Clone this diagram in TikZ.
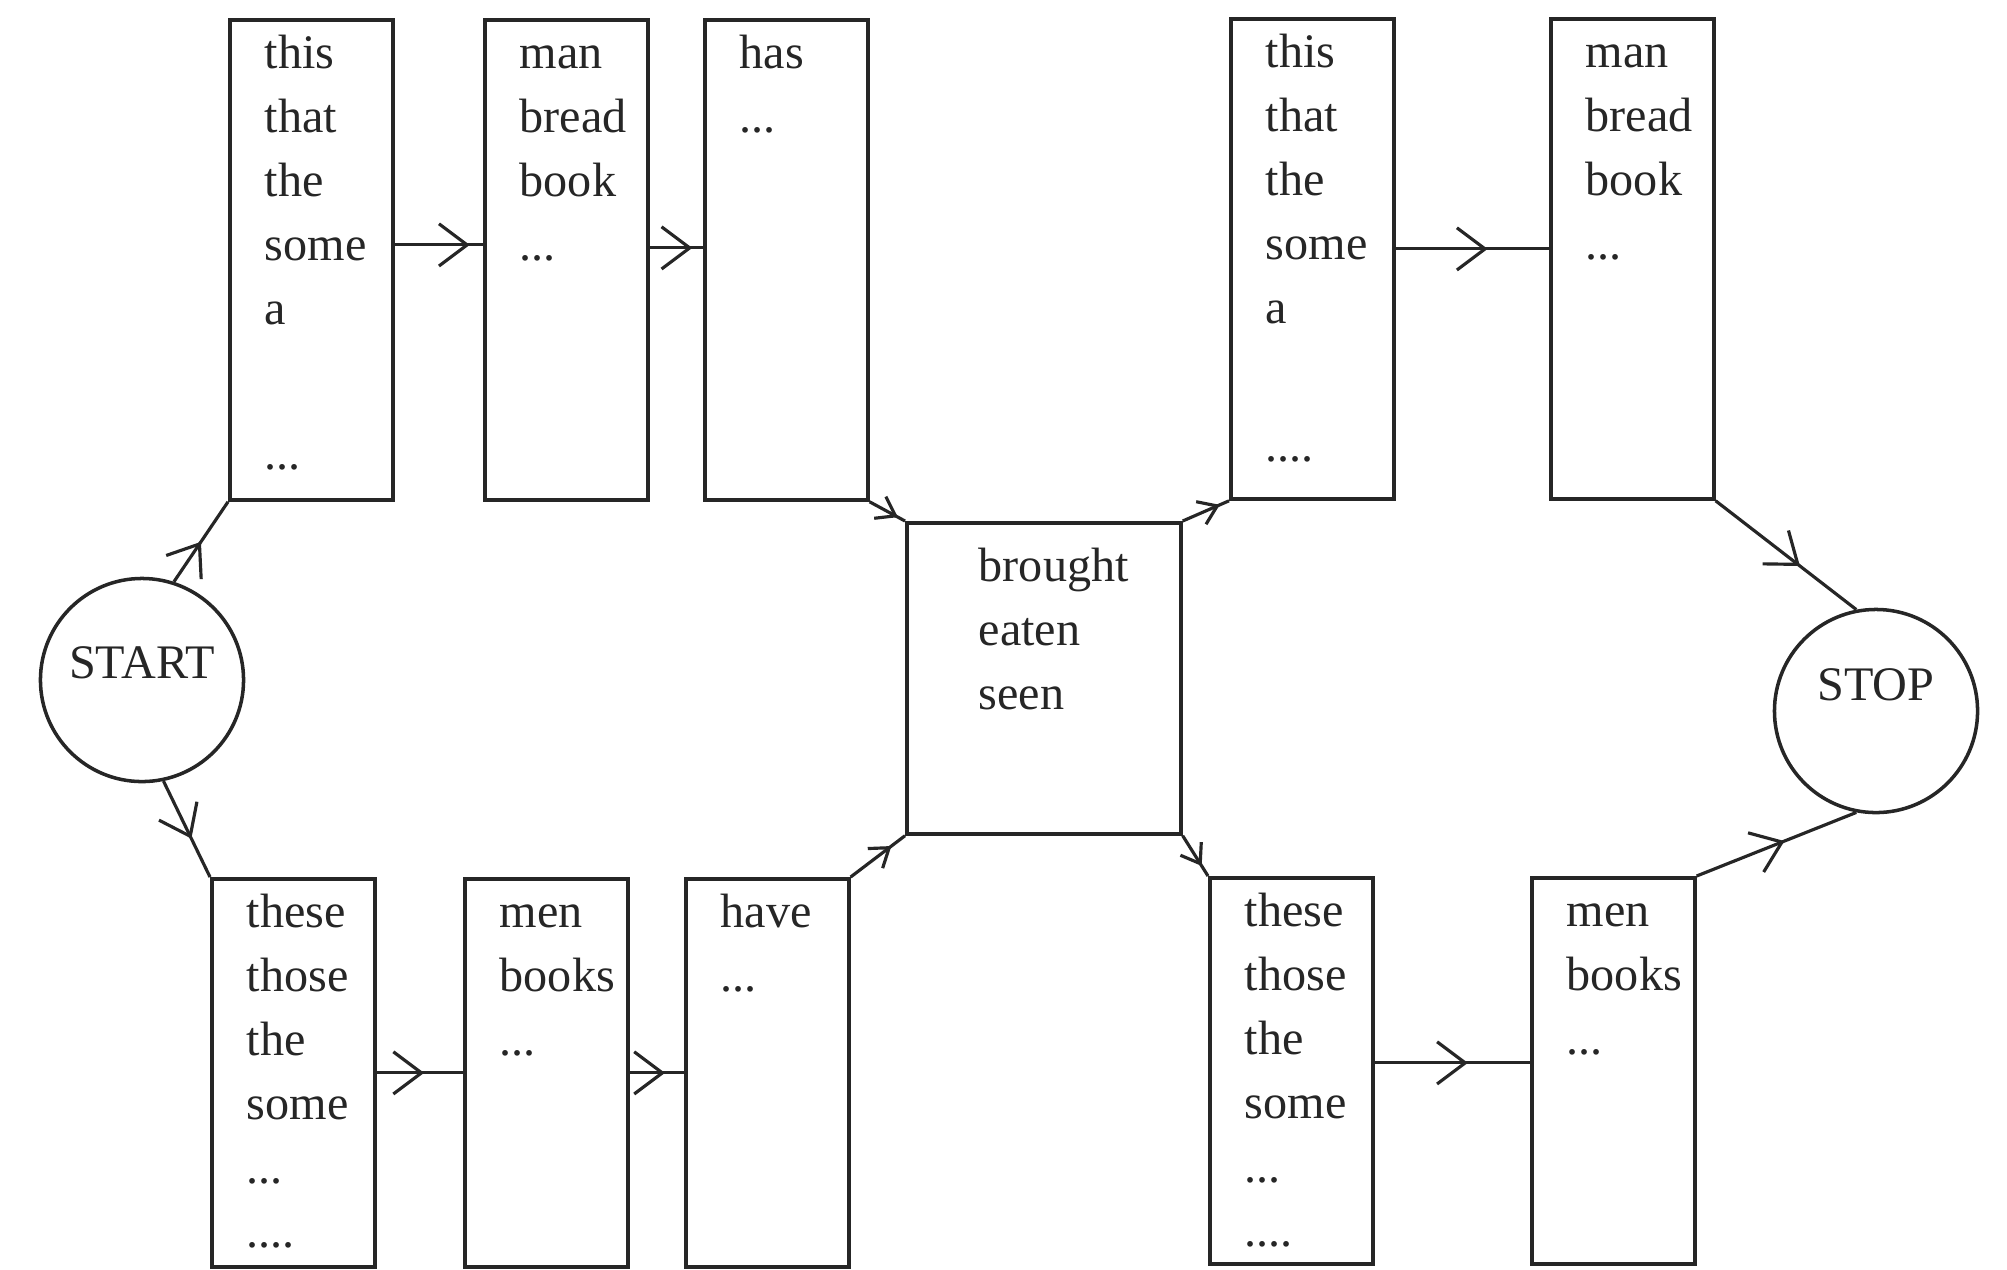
\documentclass[tikz,border=0pt]{standalone}
\usepackage{fontspec}
\setmainfont{Liberation Serif}
\usetikzlibrary{arrows.meta, decorations.markings}
\definecolor{Ink}{HTML}{262626}

\tikzset{
    wordbox/.style={draw=Ink, line width=1pt, anchor=north west,
        inner xsep=0pt, inner ysep=0pt, text width=1.63cm, align=left,
        execute at begin node={\leftskip=0.35cm},
        text height=0.49cm, text depth=#1},
    endpoint/.style={circle, draw=Ink, line width=1pt, minimum size=2.03cm,
        inner sep=0pt, text height=9.5pt},
    flow/.style={draw=Ink, line width=0.9pt, postaction={decorate},
        decoration={markings, mark=at position #1 with
            {\arrow{Straight Barb[length=8pt, width=12pt, line width=0.9pt]}}}},
    cornerflow/.style={draw=Ink, line width=0.9pt, postaction={decorate},
        decoration={markings, mark=at position #1 with
            {\arrow{Straight Barb[length=5pt, width=7pt, line width=0.9pt]}}}}
}

\begin{document}
\begin{tikzpicture}[x=0.01cm, y=-0.01cm, text=Ink,
                    font=\fontsize{13.7}{18.2}\selectfont]
    \useasboundingbox (0,0) rectangle (2007,1269);

    % Start and stop states
    \node[endpoint, text depth=10.1pt] (start) at (142,680) {START};
    \node[endpoint, text depth=15.3pt] (stop) at (1876,711) {STOP};

    % Top row (singular)
    \node[wordbox=4.31cm] (sgdet) at (228,18)
        {this\\that\\the\\some\\a\\[23pt]...};
    \node[wordbox=4.31cm] (sgnoun) at (483,18) {man\\bread\\book\\...};
    \node[wordbox=4.31cm] (sgaux) at (703,18) {has\\...};
    \node[wordbox=4.31cm] (sgdet2) at (1229,17)
        {this\\that\\the\\some\\a\\[21pt]....};
    \node[wordbox=4.31cm] (sgnoun2) at (1549,17) {man\\bread\\book\\...};

    % Participle box in the middle
    \node[wordbox=2.52cm, text width=2.74cm, text height=0.59cm,
          execute at begin node={\leftskip=0.72cm}] (verb) at (905,521)
        {brought\\eaten\\seen};

    % Bottom row (plural)
    \node[wordbox=3.39cm] (pldet) at (210,877)
        {these\\those\\the\\some\\...\\....};
    \node[wordbox=3.39cm] (plnoun) at (463,877) {men\\books\\...};
    \node[wordbox=3.39cm] (plaux) at (684,877) {have\\...};
    \node[wordbox=3.37cm] (pldet2) at (1208,876)
        {these\\those\\the\\some\\...\\....};
    \node[wordbox=3.37cm] (plnoun2) at (1530,876) {men\\books\\...};

    % Transitions
    \draw[flow=0.5] (start.72) -- (sgdet.south west);
    \draw[flow=0.6] (start.-78) -- (pldet.north west);
    \draw[flow=0.85] ([yshift=0.15cm]sgdet.east) -- ([yshift=0.15cm]sgnoun.west);
    \draw[flow=0.8] ([yshift=0.12cm]sgnoun.east) -- ([yshift=0.12cm]sgaux.west);
    \draw[cornerflow=0.8] (sgaux.south east) -- (verb.north west);
    \draw[cornerflow=0.8] (verb.north east) -- (sgdet2.south west);
    \draw[cornerflow=0.75] (plaux.north east) -- (verb.south west);
    \draw[cornerflow=0.75] (verb.south east) -- (pldet2.north west);
    \draw[flow=0.55] (pldet.east) -- (plnoun.west);
    \draw[flow=0.65] (plnoun.east) -- (plaux.west);
    \draw[flow=0.6] ([yshift=0.10cm]sgdet2.east) -- ([yshift=0.10cm]sgnoun2.west);
    \draw[flow=0.6] ([yshift=0.08cm]pldet2.east) -- ([yshift=0.08cm]plnoun2.west);
    \draw[flow=0.6] (sgnoun2.south east) -- (stop.101);
    \draw[flow=0.55] (plnoun2.north east) -- (stop.-101);
\end{tikzpicture}
\end{document}
